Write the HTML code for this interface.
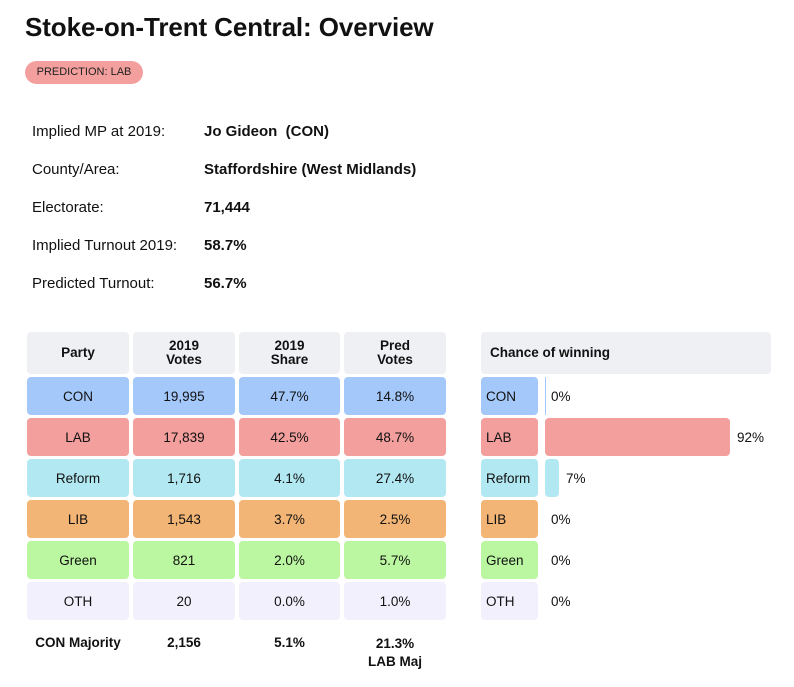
<!DOCTYPE html>
<html><head><style>
body{margin:0;width:794px;height:687px;background:#fff;font-family:"Liberation Sans",sans-serif;color:#111;position:relative;overflow:hidden}
.a{position:absolute}
h1{position:absolute;left:25px;top:12px;margin:0;font-size:26px;font-weight:bold;letter-spacing:-0.1px}
.badge{left:25px;top:61px;width:118px;height:23px;border-radius:12px;background:#f29f9d;font-size:11px;line-height:23px;text-align:center;color:#222}
.lbl{left:32px;font-size:15px}
.val{left:204px;font-size:15px;font-weight:bold}
.c{position:absolute;border-radius:4px;display:flex;align-items:center;justify-content:center;font-size:13.5px;text-align:center}
.h{background:#eff0f4;font-weight:bold;line-height:14px}
.l{justify-content:flex-start;padding-left:5px;box-sizing:border-box}
.f{position:absolute;font-size:13.5px;font-weight:bold;text-align:center}
</style></head><body>
<h1>Stoke-on-Trent Central: Overview</h1>
<div class="a badge">PREDICTION: LAB</div>
<div class="a lbl" style="top:123px">Implied MP at 2019:</div><div class="a val" style="top:123px">Jo Gideon&nbsp; (CON)</div>
<div class="a lbl" style="top:161px">County/Area:</div><div class="a val" style="top:161px">Staffordshire (West Midlands)</div>
<div class="a lbl" style="top:199px">Electorate:</div><div class="a val" style="top:199px">71,444</div>
<div class="a lbl" style="top:237px">Implied Turnout 2019:</div><div class="a val" style="top:237px">58.7%</div>
<div class="a lbl" style="top:275px">Predicted Turnout:</div><div class="a val" style="top:275px">56.7%</div>

<div class="c h" style="left:27px;top:332px;width:102px;height:42px">Party</div>
<div class="c h" style="left:133px;top:332px;width:102px;height:42px">2019<br>Votes</div>
<div class="c h" style="left:239px;top:332px;width:101px;height:42px">2019<br>Share</div>
<div class="c h" style="left:344px;top:332px;width:102px;height:42px">Pred<br>Votes</div>
<div class="c h l" style="left:481px;top:332px;width:290px;height:42px;padding-left:9px">Chance of winning</div>

<div id="rows"></div>
<script>
var R=[["CON","#a4c8fa","19,995","47.7%","14.8%",0],["LAB","#f29f9d","17,839","42.5%","48.7%",92],["Reform","#b2e8f2","1,716","4.1%","27.4%",7],["LIB","#f2b575","1,543","3.7%","2.5%",0],["Green","#bbf7a0","821","2.0%","5.7%",0],["OTH","#f3f0fd","20","0.0%","1.0%",0]];
var h="",xs=[[27,102],[133,102],[239,101],[344,102]];
R.forEach(function(r,i){var y=377+i*41;
[r[0],r[2],r[3],r[4]].forEach(function(t,j){h+='<div class="c" style="left:'+xs[j][0]+'px;top:'+y+'px;width:'+xs[j][1]+'px;height:38px;background:'+r[1]+'">'+t+'</div>';});
h+='<div class="c l" style="left:481px;top:'+y+'px;width:57px;height:38px;background:'+r[1]+'">'+r[0]+'</div>';
var w=r[5]?Math.round(r[5]*2.01):0;
if(i==0)h+='<div class="a" style="left:545px;top:'+y+'px;width:1px;height:38px;background:#a4c8fa"></div>';
if(w)h+='<div class="a" style="left:545px;top:'+y+'px;width:'+w+'px;height:38px;border-radius:4px;background:'+r[1]+'"></div>';
h+='<div class="a" style="left:'+(w?552+w:551)+'px;top:'+(y+12)+'px;font-size:13.5px">'+r[5]+'%</div>';});
document.getElementById("rows").innerHTML=h;
</script>
<div class="f" style="left:27px;top:635px;width:102px">CON Majority</div>
<div class="f" style="left:133px;top:635px;width:102px">2,156</div>
<div class="f" style="left:239px;top:635px;width:101px">5.1%</div>
<div class="f" style="left:344px;top:635px;width:102px;line-height:18px">21.3%<br>LAB Maj</div>
</body></html>
